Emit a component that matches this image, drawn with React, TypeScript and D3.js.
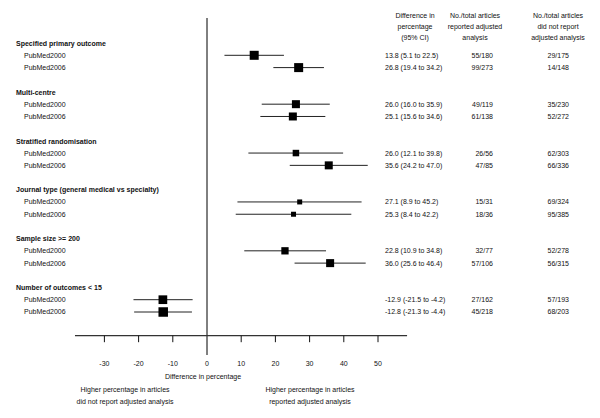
import React from "react";
import * as d3 from "d3";

const groups = [
  "Specified primary outcome",
  "Multi-centre",
  "Stratified randomisation",
  "Journal type (general medical vs specialty)",
  "Sample size >= 200",
  "Number of outcomes < 15",
];
const subLabels = ["PubMed2000", "PubMed2006"];
const estimates = [[13.8, 26.8], [26.0, 25.1], [26.0, 35.6], [27.1, 25.3], [22.8, 36.0], [-12.9, -12.8]];
const lower = [[5.1, 19.4], [16.0, 15.6], [12.1, 24.2], [8.9, 8.4], [10.9, 25.6], [-21.5, -21.3]];
const upper = [[22.5, 34.2], [35.9, 34.6], [39.8, 47.0], [45.2, 42.2], [34.8, 46.4], [-4.2, -4.4]];
const weights = [[9, 9], [8, 8], [6.5, 8], [5, 5], [7.3, 8], [8.7, 9.5]];
const ciText = [
  ["13.8 (5.1 to 22.5)", "26.8 (19.4 to 34.2)"],
  ["26.0 (16.0 to 35.9)", "25.1 (15.6 to 34.6)"],
  ["26.0 (12.1 to 39.8)", "35.6 (24.2 to 47.0)"],
  ["27.1 (8.9 to 45.2)", "25.3 (8.4 to 42.2)"],
  ["22.8 (10.9 to 34.8)", "36.0 (25.6 to 46.4)"],
  ["-12.9 (-21.5 to -4.2)", "-12.8 (-21.3 to -4.4)"],
];
const reported = [["55/180", "99/273"], ["49/119", "61/138"], ["26/56", "47/85"], ["15/31", "18/36"], ["32/77", "57/106"], ["27/162", "45/218"]];
const notReported = [["29/175", "14/148"], ["35/230", "52/272"], ["62/303", "66/336"], ["69/324", "95/385"], ["52/278", "56/315"], ["57/193", "68/203"]];
const ticks = [-30, -20, -10, 0, 10, 20, 30, 40, 50];
const axisExtent = [-38.6, 58.5];
const colHeaders = [
  ["Difference in", "percentage", "(95% CI)"],
  ["No./total articles", "reported adjusted", "analysis"],
  ["No./total articles", "did not report", "adjusted analysis"],
];
const axisTitle = "Difference in percentage";
const footLeft = ["Higher percentage in  articles", "did not report adjusted analysis"];
const footRight = ["Higher percentage in articles", "reported adjusted analysis"];

export default function App() {
  const x = d3.scaleLinear().domain([-30, 50]).range([104.4, 378]);
  const gy = d3.scaleLinear().domain([0, groups.length - 1]).range([43.3, 287.7]);
  const rowOff = [12, 24.3];
  const axisY = 335.7;
  const font = "'Liberation Sans', Arial, sans-serif";
  const fs = 7;
  const col = "#111";

  return (
    <svg width={600} height={418} style={{ position: "absolute", left: 0, top: 0, background: "#fff" }} fontFamily={font} fontSize={fs}>
      <rect width={600} height={418} fill="#fff" />
      {/* column headers */}
      {colHeaders.map((lines, ci) =>
        lines.map((t, li) => (
          <text key={`h${ci}${li}`} x={[415, 475, 558][ci]} y={16 + li * 11} dy="0.35em" textAnchor="middle" fill={col}>
            {t}
          </text>
        ))
      )}
      {/* zero line */}
      <line x1={x(0)} x2={x(0)} y1={18} y2={355} stroke="#000" strokeWidth={1} />
      {groups.map((g, gi) => (
        <g key={g}>
          <text x={16} y={gy(gi)} dy="0.35em" fontWeight="bold" fill={col}>{g}</text>
          {subLabels.map((s, si) => {
            const y = gy(gi) + rowOff[si];
            const w = weights[gi][si];
            return (
              <g key={s}>
                <text x={24} y={y} dy="0.35em" fill={col}>{s}</text>
                <line x1={x(lower[gi][si])} x2={x(upper[gi][si])} y1={y} y2={y} stroke="#222" strokeWidth={1} />
                <rect x={x(estimates[gi][si]) - w / 2} y={y - w / 2} width={w} height={w} fill="#000" />
                <text x={385} y={y} dy="0.35em" fill={col}>{ciText[gi][si]}</text>
                <text x={493} y={y} dy="0.35em" textAnchor="end" fill={col}>{reported[gi][si]}</text>
                <text x={569} y={y} dy="0.35em" textAnchor="end" fill={col}>{notReported[gi][si]}</text>
              </g>
            );
          })}
        </g>
      ))}
      {/* axis */}
      <line x1={x(axisExtent[0])} x2={x(axisExtent[1])} y1={axisY} y2={axisY} stroke="#333" strokeWidth={1.2} />
      {ticks.map((t) => (
        <g key={t}>
          {t !== 0 && <line x1={x(t)} x2={x(t)} y1={axisY} y2={axisY + 6.5} stroke="#111" strokeWidth={1} />}
          <text x={x(t)} y={364} dy="0.35em" textAnchor="middle" fill={col}>{t}</text>
        </g>
      ))}
      <text x={203} y={377} dy="0.35em" textAnchor="middle" fill={col}>{axisTitle}</text>
      {footLeft.map((t, i) => (
        <text key={`fl${i}`} x={125} y={390 + i * 12} dy="0.35em" textAnchor="middle" fill={col}>{t}</text>
      ))}
      {footRight.map((t, i) => (
        <text key={`fr${i}`} x={310} y={390 + i * 12} dy="0.35em" textAnchor="middle" fill={col}>{t}</text>
      ))}
    </svg>
  );
}
